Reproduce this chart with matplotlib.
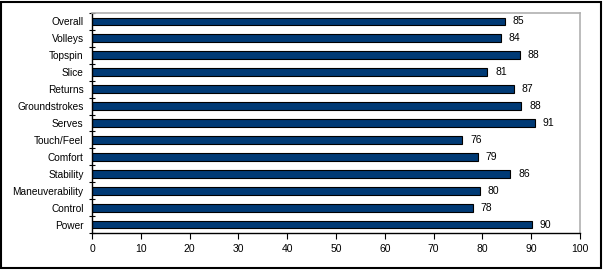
import matplotlib.pyplot as plt
from matplotlib.patches import Rectangle

# categories listed bottom -> top (as drawn on the y axis)
categories = ["Power", "Control", "Maneuverability", "Stability", "Comfort",
              "Touch/Feel", "Serves", "Groundstrokes", "Returns", "Slice",
              "Topspin", "Volleys", "Overall"]
scores = [90.2, 78.1, 79.5, 85.7, 79.1, 75.9, 90.8, 88.0, 86.5, 81.0, 87.7, 83.8, 84.6]
score_labels = [90, 78, 80, 86, 79, 76, 91, 88, 87, 81, 88, 84, 85]
xticks = list(range(0, 101, 10))


def main():
    plt.rcParams["font.family"] = ["Liberation Sans", "DejaVu Sans"]
    fig = plt.figure(figsize=(6.03, 2.70), dpi=100)
    ax = fig.add_axes([92 / 603, 1 - 233 / 270, 488 / 603, 220 / 270])

    y = range(len(categories))
    ax.barh(y, scores, height=0.46, color="#003a75", edgecolor="black", linewidth=0.8)
    for yi, v, lab in zip(y, scores, score_labels):
        ax.text(v + 1.6, yi, str(lab), va="center", ha="left", fontsize=7.5)

    ax.set_xlim(0, 100)
    ax.set_ylim(-0.5, len(categories) - 0.5)
    ax.set_xticks(xticks)
    ax.set_yticks(list(y))
    ax.set_yticklabels(categories)
    ax.set_yticks([i - 0.5 for i in range(len(categories) + 1)], minor=True)
    ax.tick_params(axis="y", which="major", length=0, pad=6, labelsize=7.3)
    ax.tick_params(axis="y", which="minor", length=5, direction="inout", width=0.8)
    ax.tick_params(axis="x", length=4, direction="out", width=0.8, labelsize=7.5, pad=4)

    for side in ("top", "right"):
        ax.spines[side].set_color("#b0b0b0")
        ax.spines[side].set_linewidth(1.2)
    for side in ("left", "bottom"):
        ax.spines[side].set_color("black")
        ax.spines[side].set_linewidth(1.0)

    # outer frame of the figure
    fig.patches.append(Rectangle((0.002, 0.006), 0.994, 0.988, transform=fig.transFigure,
                                 fill=False, edgecolor="black", linewidth=1.5))

    fig.savefig("out.png", dpi=100)


if __name__ == "__main__":
    main()
